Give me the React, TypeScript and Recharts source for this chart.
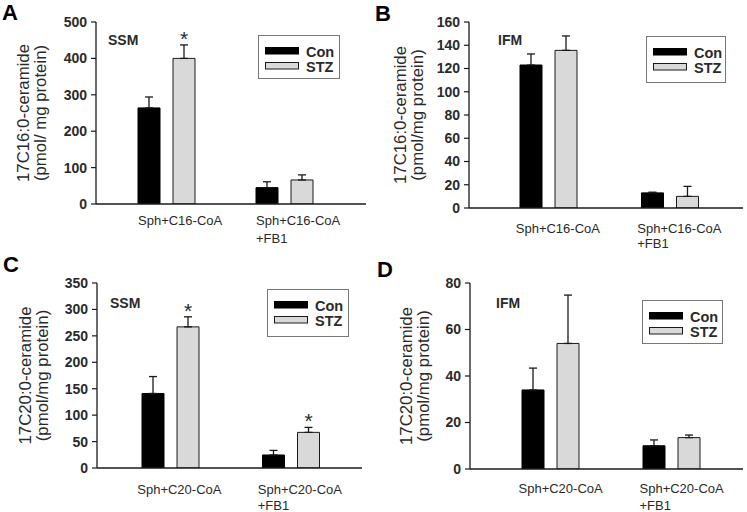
import { BarChart, Bar, XAxis, YAxis, ErrorBar, LabelList, Legend } from 'recharts';

const FONT = '"Liberation Sans", Arial, Helvetica, sans-serif';
const INK = '#1a1a1a';
const TEXT = '#2a2a2a';

// categories
const c16Groups = ['Sph+C16-CoA', 'Sph+C16-CoA\n+FB1'];
const c20Groups = ['Sph+C20-CoA', 'Sph+C20-CoA\n+FB1'];

// A: SSM, 17C16:0-ceramide
const aCon = [264, 45];
const aConErr = [30, 16];
const aStz = [400, 66];
const aStzErr = [37, 14];
const aSig = [true, false];
const aTicks = [0, 100, 200, 300, 400, 500];

// B: IFM, 17C16:0-ceramide
const bCon = [123, 13];
const bConErr = [9.5, 0.6];
const bStz = [135.6, 10];
const bStzErr = [12.4, 8.6];
const bSig = [false, false];
const bTicks = [0, 20, 40, 60, 80, 100, 120, 140, 160];

// C: SSM, 17C20:0-ceramide
const cCon = [141, 24.6];
const cConErr = [32, 8.7];
const cStz = [267, 67.4];
const cStzErr = [19, 9.4];
const cSig = [true, true];
const cTicks = [0, 50, 100, 150, 200, 250, 300, 350];

// D: IFM, 17C20:0-ceramide
const dCon = [34, 10];
const dConErr = [9.4, 2.5];
const dStz = [54, 13.5];
const dStzErr = [20.8, 1.1];
const dSig = [false, false];
const dTicks = [0, 20, 40, 60, 80];

type Panel = {
  letter: string;
  tag: string;
  left: number;
  top: number;
  w: number;
  h: number;
  plot: { l: number; t: number; r: number; b: number };
  pad: { left: number; right: number };
  ticks: number[];
  title: string[];
  titleX: number;
  letterPos: [number, number];
  tagPos: [number, number];
  legend: { x: number; y: number; w: number; h: number };
  labelDx: number;
  labelDy: number;
  labelGap: number;
  groups: string[];
  con: number[];
  conErr: number[];
  stz: number[];
  stzErr: number[];
  sig: boolean[];
};

const panels: Panel[] = [
  {
    letter: 'A', tag: 'SSM', left: 0, top: 0, w: 373, h: 250,
    plot: { l: 96, t: 22, r: 366, b: 204 }, pad: { left: 11, right: 23 },
    ticks: aTicks, title: ['17C16:0-ceramide', '(pmol/ mg protein)'], titleX: 29,
    letterPos: [2, 20], tagPos: [108, 45], legend: { x: 258, y: 35, w: 82, h: 44 },
    labelDx: -28, labelDy: 21, labelGap: 18,
    groups: c16Groups, con: aCon, conErr: aConErr, stz: aStz, stzErr: aStzErr, sig: aSig,
  },
  {
    letter: 'B', tag: 'IFM', left: 373, top: 0, w: 374, h: 250,
    plot: { l: 96, t: 22, r: 370, b: 208 }, pad: { left: 19, right: 12 },
    ticks: bTicks, title: ['17C16:0-ceramide', '(pmol/mg protein)'], titleX: 33,
    letterPos: [2, 21], tagPos: [125, 45], legend: { x: 273, y: 36, w: 80, h: 47 },
    labelDx: -33, labelDy: 25, labelGap: 15,
    groups: c16Groups, con: bCon, conErr: bConErr, stz: bStz, stzErr: bStzErr, sig: bSig,
  },
  {
    letter: 'C', tag: 'SSM', left: 0, top: 250, w: 373, h: 262,
    plot: { l: 97, t: 33, r: 362, b: 218 }, pad: { left: 13, right: 11 },
    ticks: cTicks, title: ['17C20:0-ceramide', '(pmol/mg protein)'], titleX: 31,
    letterPos: [3, 22], tagPos: [110, 58], legend: { x: 267, y: 39, w: 82, h: 48 },
    labelDx: -33, labelDy: 26, labelGap: 16,
    groups: c20Groups, con: cCon, conErr: cConErr, stz: cStz, stzErr: cStzErr, sig: cSig,
  },
  {
    letter: 'D', tag: 'IFM', left: 373, top: 250, w: 374, h: 262,
    plot: { l: 97, t: 33, r: 370, b: 219 }, pad: { left: 20, right: 11 },
    ticks: dTicks, title: ['17C20:0-ceramide', '(pmol/mg protein)'], titleX: 39,
    letterPos: [4, 27], tagPos: [123, 58], legend: { x: 269, y: 50, w: 81, h: 44 },
    labelDx: -32, labelDy: 24, labelGap: 16.5,
    groups: c20Groups, con: dCon, conErr: dConErr, stz: dStz, stzErr: dStzErr, sig: dSig,
  },
];

function GroupTick(props: any) {
  const { x, y, payload, offX, offY, lineGap } = props;
  const lines = String(payload.value).split('\n');
  const tx = x + offX;
  return (
    <text x={tx} y={y + offY} textAnchor="start" fontSize={13} fill={TEXT} fontFamily={FONT}>
      {lines.map((s, i) => (
        <tspan key={i} x={tx} dy={i === 0 ? 0 : lineGap}>
          {s}
        </tspan>
      ))}
    </text>
  );
}

function YTitle(props: any) {
  const { lines, baseX, cy } = props;
  return (
    <g>
      {lines.map((s: string, i: number) => {
        const x = baseX + i * 17;
        return (
          <text
            key={i}
            x={x}
            y={cy}
            transform={`rotate(-90 ${x} ${cy})`}
            textAnchor="middle"
            fontSize={16.8}
            fill={TEXT}
            fontFamily={FONT}
          >
            {s}
          </text>
        );
      })}
    </g>
  );
}

function LegendBox(props: any) {
  const { payload, w, h } = props;
  return (
    <svg width={w} height={h} style={{ display: 'block' }}>
      <rect x={0.5} y={0.5} width={w - 1} height={h - 1} fill="#fff" stroke="#777" />
      {(payload || []).map((entry: any, i: number) => (
        <g key={entry.value}>
          <rect
            x={7.5}
            y={12.5 + i * 15}
            width={33}
            height={6.5}
            fill={entry.color}
            stroke={i === 0 ? entry.color : INK}
            strokeWidth={1}
          />
          <text x={48} y={21.5 + i * 15.5} fontSize={14.5} fontWeight={700} fill={TEXT} fontFamily={FONT}>
            {entry.value}
          </text>
        </g>
      ))}
    </svg>
  );
}

function starLabel(p: Panel) {
  return (props: any) => {
    const index = props.index;
    if (index == null || !p.sig[index]) return null;
    const vb = props.viewBox ?? props;
    const h = Math.abs(vb.height);
    const top = Math.min(vb.y, vb.y + vb.height);
    const pxPerUnit = h / p.stz[index];
    const errTop = top - p.stzErr[index] * pxPerUnit;
    return (
      <text x={vb.x + vb.width / 2} y={errTop + 1} textAnchor="middle" fontSize={21} fill={TEXT} fontFamily={FONT}>
        *
      </text>
    );
  };
}

function PanelChart({ p }: { p: Panel }) {
  const data = p.groups.map((g, i) => ({
    group: g,
    con: p.con[i],
    conErr: [0, p.conErr[i]],
    stz: p.stz[i],
    stzErr: [0, p.stzErr[i]],
  }));
  const { l, t, r, b } = p.plot;
  const axisLine = { stroke: INK, strokeWidth: 1.3 };
  const domain: [number, number] = [p.ticks[0], p.ticks[p.ticks.length - 1]];

  return (
    <div style={{ position: 'absolute', left: p.left, top: p.top, width: p.w, height: p.h }}>
      <BarChart
        width={p.w}
        height={p.h}
        data={data}
        margin={{ top: t, right: p.w - r, bottom: p.h - b - 40, left: 0 }}
        barSize={22}
        barGap={13}
      >
        <XAxis
          dataKey="group"
          height={40}
          padding={p.pad}
          interval={0}
          tickLine={false}
          tickSize={0}
          tickMargin={0}
          axisLine={axisLine}
          tick={<GroupTick offX={p.labelDx} offY={p.labelDy} lineGap={p.labelGap} />}
        />
        <XAxis
          xAxisId="top"
          dataKey="group"
          orientation="top"
          height={0}
          tick={false}
          tickLine={false}
          axisLine={axisLine}
        />
        <YAxis
          width={l}
          domain={domain}
          ticks={p.ticks}
          interval={0}
          allowDataOverflow
          tickSize={5}
          tickMargin={4}
          axisLine={axisLine}
          tickLine={{ stroke: INK, strokeWidth: 1.2 }}
          tick={{ fontSize: 14, fontWeight: 700, fill: TEXT, fontFamily: FONT }}
          label={<YTitle lines={p.title} baseX={p.titleX} cy={(t + b) / 2} />}
        />
        <YAxis
          yAxisId="right"
          orientation="right"
          width={0}
          domain={domain}
          tick={false}
          tickLine={false}
          axisLine={axisLine}
        />
        <Legend
          layout="horizontal"
          verticalAlign="middle"
          align="center"
          wrapperStyle={{ left: p.legend.x, top: p.legend.y, width: p.legend.w, height: p.legend.h }}
          content={(lp: any) => <LegendBox payload={lp.payload} w={p.legend.w} h={p.legend.h} />}
        />
        <Bar dataKey="con" name="Con" fill="#000" stroke="#000" isAnimationActive={false}>
          <ErrorBar dataKey="conErr" direction="y" width={4} stroke={INK} strokeWidth={1.3} />
        </Bar>
        <Bar dataKey="stz" name="STZ" fill="#d9d9d9" stroke={INK} strokeWidth={1} isAnimationActive={false}>
          <ErrorBar dataKey="stzErr" direction="y" width={4} stroke={INK} strokeWidth={1.3} />
          <LabelList dataKey="stz" content={starLabel(p)} />
        </Bar>
      </BarChart>
      <svg
        width={p.w}
        height={p.h}
        style={{ position: 'absolute', left: 0, top: 0, pointerEvents: 'none' }}
      >
        <text x={p.letterPos[0]} y={p.letterPos[1]} fontSize={22} fontWeight={700} fill="#000" fontFamily={FONT}>
          {p.letter}
        </text>
        <text x={p.tagPos[0]} y={p.tagPos[1]} fontSize={14} fontWeight={700} fill={TEXT} fontFamily={FONT}>
          {p.tag}
        </text>
      </svg>
    </div>
  );
}

export default function App() {
  return (
    <div style={{ position: 'absolute', left: 0, top: 0, width: 747, height: 512, background: '#fff' }}>
      {panels.map((p) => (
        <PanelChart key={p.letter} p={p} />
      ))}
    </div>
  );
}
